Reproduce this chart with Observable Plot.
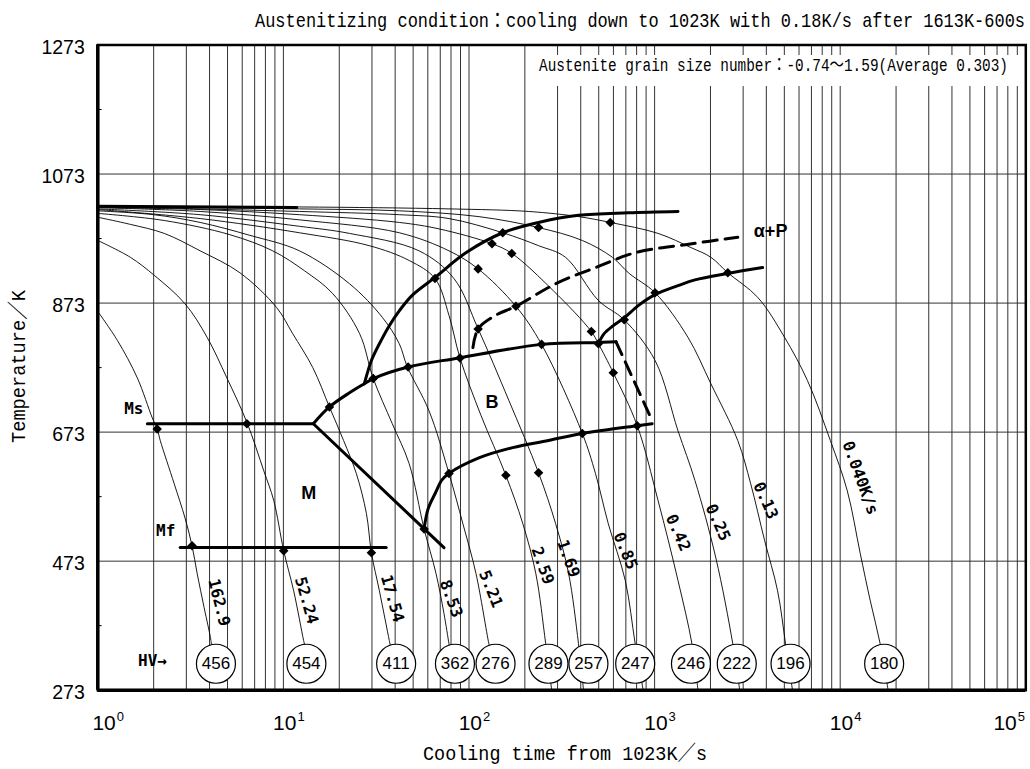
<!DOCTYPE html>
<html><head><meta charset="utf-8">
<script src="https://cdn.jsdelivr.net/npm/d3@7"></script>
<script src="https://cdn.jsdelivr.net/npm/@observablehq/plot@0.6"></script>
<style>
body{margin:0;background:#fff;}
#wrap{position:relative;width:1030px;height:769px;overflow:hidden;background:#fff;}
</style></head><body><div id="wrap"></div>
<script>
// ---- axis values ----
const decades = [1, 10, 100, 1000, 10000, 100000];
const tempTicks = [273, 473, 673, 873, 1073, 1273];
const tempGrid = [473, 673, 873, 1073];
const tempMinor = [373, 573, 773, 973, 1173];

// ---- cooling curves: [time s, temperature K] ----
const rateLabels = ["162.9","52.24","17.54","8.53","5.21","2.59","1.69","0.85","0.42","0.25","0.13","0.040K/s"];
const c162_9 = [[1.0,860],[1.276,815],[1.633,757],[1.966,695],[2.09,678],[2.17,660],[2.58,593],[2.95,540],[3.22,497],[3.43,454],[3.74,401],[4.07,350],[4.1,340]];
const c52_24 = [[1,970],[1.497,944],[2.015,916],[2.95,872],[3.88,820],[4.96,757],[6.36,688],[7.84,613],[8.87,567],[10.04,489],[11.36,427],[12.85,350],[13.1,340]];
const c17_54 = [[1,1006],[1.497,995],[2.28,981],[3.56,954],[5.83,920],[9.2,866],[11.2,826],[14.4,773],[17.7,712],[21.1,660],[24.7,609],[28.0,547],[29.8,486],[32.9,427],[37.2,350],[37.8,340]];
const c8_53 = [[1,1012],[2.28,1001],[5.15,979],[8.76,954],[13.0,923],[18.4,888],[25.7,826],[30.5,756],[38.6,686],[47.6,624],[57.3,523],[66.4,454],[73.3,392],[78.0,345],[78.8,338]];
const c5_21 = [[1,1016],[2.0,1010],[3.56,998],[6.6,978],[12.2,954],[22.7,903],[34.1,851],[42.1,810],[46.4,775],[60.9,706],[78.0,609],[92.7,531],[109,454],[128,345],[130,338]];
const c2_59 = [[1,1018],[3.56,1004],[12.2,982],[29.0,962],[47.6,939],[65.6,911],[78.0,854],[89.4,788],[116,699],[158,606],[195,531],[229,454],[259,345],[279,273]];
const c1_69 = [[1,1019],[3.56,1010],[12.2,992],[22.7,981],[53.8,954],[83.0,911],[112,833],[164,722],[237,610],[293,531],[344,454],[389,345],[414,273]];
const c0_85 = [[1,1021],[3.56,1015],[12.2,1002],[42.1,982],[78.0,954],[112,926],[179,868],[246,809],[408,671],[480,609],[563,531],[695,443],[786,345],[868,273]];
const c0_42 = [[1,1021],[3.56,1018],[12.2,1010],[42.1,998],[68.9,988],[133,965],[170,950],[285,892],[456,829],[498,810],[599,765],[806,683],[1044,567],[1337,443],[1589,345],[1712,273]];
const c0_25 = [[1,1023],[3.56,1019],[12.2,1015],[42.1,1010],[78.0,1004],[152,982],[237,962],[331,944],[498,877],[686,847],[1006,784],[1337,675],[1650,598],[2138,478],[2638,345],[2875,273]];
const c0_13 = [[1,1023],[3.56,1021],[12.2,1019],[42.1,1016],[113,1007],[237,990],[408,970],[592,944],[729,919],[1006,889],[1512,820],[2010,748],[2805,660],[3294,593],[3915,505],[4599,427],[5076,345],[5534,273]];
const c0_040 = [[1,1023],[12.2,1022],[78.0,1019],[210,1015],[389,1007],[577,998],[1044,981],[1570,959],[2010,944],[2480,920],[3592,882],[5012,820],[6660,753],[8849,660],[10920,582],[12820,485],[14510,412],[16420,345],[18120,273]];
const coolingCurves = [c162_9,c52_24,c17_54,c8_53,c5_21,c2_59,c1_69,c0_85,c0_42,c0_25,c0_13,c0_040];

// rate label anchor positions (time, temperature) and angle
const labelTime = [4.5, 13.3, 38.6, 80.0, 131, 249, 343, 695, 1337, 2191, 3965, 12820];
const labelTemp = [409, 412, 415, 415, 430, 466, 477, 489, 517, 533, 567, 602];
const labelAngle = [76, 74, 74, 70, 68, 70, 70, 68, 66, 66, 66, 70];

// ---- transformation lines ----
const austenitizeLine = [[1,1023],[11.8,1021]];
const ferriteStart = [[27.3,748],[29.8,784],[32.9,810],[37.2,838],[42.1,861],[49.4,885],[66.4,914],[96.2,951],[152,982],[237,998],[389,1009],[721,1013],[1337,1015]];
const bainiteStart = [[14.5,686],[17.7,712],[22.7,734],[27.3,748],[30.5,756],[47.0,774],[88.3,788],[246,809],[498,812],[620,813]];
const bainiteDash = [[620,813],[970,691]];
const bainiteFinish = [[57.3,523],[60.2,554],[66.0,579],[71.5,599],[78.0,609],[113,633],[172,649],[268,660],[408,671],[806,683],[970,686]];
const pearliteFinish = [[498,810],[536,826],[599,838],[686,850],[816,869],[1006,886],[1337,900],[1650,909],[2480,919],[3819,928]];
const pearliteStart = [[105,804],[112,833],[139,854],[179,868],[293,903],[480,928],[786,951],[1589,965],[2805,975]];
const msLine = [[1.85,686],[14.5,686]];
const mDiagonal = [[14.5,686],[73.3,494]];
const mfLine = [[2.78,494],[35.8,494]];

// ---- measured transformation points ----
const points = [[2.09,678],[6.36,686],[17.7,712],[30.5,756],[47.0,774],[89.4,788],[246,809],[498,810],
  [3.22,497],[10.04,489],[29.8,486],
  [57.3,523],[78.0,609],[158,606],[237,610],[408,671],[806,683],
  [65.6,911],[112,926],[133,965],[152,982],[170,950],[237,990],[577,998],
  [112,833],[179,868],
  [456,829],[599,765],[686,847],[1006,889],[2480,920]];

// ---- hardness ----
const hardness = [456,454,411,362,276,289,257,247,246,222,196,180];
const hvTime = [4.33,13.3,40.5,84.0,139,268,440,786,1570,2771,5400,17250];
const hvTemp = 314;

// ---- phase labels ----
const phaseText = ["Ms","Mf","HV→"];
const phaseTime = [1.564, 2.32, 1.97];
const phaseTemp = [709, 520, 319];
const regionText = ["M","B","α+P"];
const regionTime = [13.7, 133, 4217];
const regionTemp = [578, 719, 985];

const titleText = "Austenitizing condition：cooling down to 1023K with 0.18K/s after 1613K-600s";
const grainText = "Austenite grain size number：-0.74～1.59(Average 0.303)";
const xLabel = "Cooling time from 1023K／s";
const yLabel = "Temperature／K";

// ---- build ----
const toRows = (arr, id) => arr.map(([t,T]) => ({t, T, id}));
const curveRows = coolingCurves.flatMap((c,i) => toRows(c, rateLabels[i]));
const thickRows = [
  ...toRows(austenitizeLine,"a"), ...toRows(ferriteStart,"f"), ...toRows(bainiteStart,"bs"),
  ...toRows(bainiteFinish,"bf"), ...toRows(pearliteFinish,"pf"), ...toRows(msLine,"ms"),
  ...toRows(mDiagonal,"md"), ...toRows(mfLine,"mf")];
const dashRows = [...toRows(pearliteStart,"ps"), ...toRows(bainiteDash,"bd")];
const pointRows = points.map(([t,T]) => ({t,T}));
const hvRows = hardness.map((h,i) => ({h, t: hvTime[i], T: hvTemp}));
const rateRows = rateLabels.map((label,i) => ({label, t: labelTime[i], T: labelTemp[i], angle: labelAngle[i]}));
const phaseRows = phaseText.map((s,i) => ({s, t: phaseTime[i], T: phaseTemp[i]}));
const regionRows = regionText.map((s,i) => ({s, t: regionTime[i], T: regionTemp[i]}));
const xGrid = decades.slice(0,5).flatMap(d => [1,2,3,4,5,6,7,8,9].map(k => k*d)).filter(v => v > 1);

const diamond = {draw(ctx, size){ const r = Math.sqrt(size/2); ctx.moveTo(0,-r); ctx.lineTo(r,0); ctx.lineTo(0,r); ctx.lineTo(-r,0); ctx.closePath(); }};
const sans = "Liberation Sans, Arial, sans-serif";
const mono = "Liberation Mono, DejaVu Sans Mono, Noto Sans CJK JP, monospace";
const boldMono = "DejaVu Sans Mono, Liberation Mono, monospace";

// x tick label marks (base "10" plus superscript exponent), with a constant offset per group
function decadeLabels(values, dx) {
  return [
    Plot.text(values, {x: d => d, y: () => 273, text: () => "10", textAnchor: "end", lineAnchor: "bottom", dx: dx, dy: 40, fontSize: 21, fontFamily: sans, fill: "black"}),
    Plot.text(values, {x: d => d, y: () => 273, text: d => String(Math.round(Math.log10(d))), textAnchor: "start", lineAnchor: "bottom", dx: dx + 1, dy: 31, fontSize: 13, fontFamily: sans, fill: "black"})
  ];
}

const svg = Plot.plot({
  width: 1030, height: 769,
  marginLeft: 97.3, marginRight: 4.7, marginTop: 44.5, marginBottom: 79.3,
  x: {type: "log", domain: [1, 100000], axis: null},
  y: {domain: [273, 1273], axis: null},
  style: {background: "white", overflow: "visible"},
  marks: [
    Plot.ruleX(xGrid, {stroke: "#333", strokeWidth: 1}),
    Plot.ruleY(tempGrid, {stroke: "#333", strokeWidth: 1}),
    Plot.ruleY(tempMinor, {x1: 1, x2: 1.055, stroke: "black", strokeWidth: 1}),
    Plot.line(curveRows, {x: "t", y: "T", z: "id", stroke: "black", strokeWidth: 0.9, curve: "catmull-rom"}),
    Plot.line(thickRows, {x: "t", y: "T", z: "id", stroke: "black", strokeWidth: 3, curve: "catmull-rom"}),
    Plot.line(dashRows, {x: "t", y: "T", z: "id", stroke: "black", strokeWidth: 3, strokeDasharray: "14,8", curve: "catmull-rom"}),
    Plot.dot(pointRows, {x: "t", y: "T", symbol: diamond, r: 3.8, fill: "black", stroke: "none"}),
    Plot.dot(hvRows, {x: "t", y: "T", r: 19.5, fill: "white", stroke: "black", strokeWidth: 1.2}),
    Plot.text(hvRows, {x: "t", y: "T", text: d => String(d.h), fontSize: 17, fontFamily: sans, fill: "black"}),
    Plot.text(rateRows, {x: "t", y: "T", text: "label", rotate: "angle", fontSize: 16, fontWeight: "bold", fontFamily: boldMono, fill: "black", ariaLabel: "rate labels"}),
    Plot.text(phaseRows, {x: "t", y: "T", text: "s", fontSize: 16, fontWeight: "bold", fontFamily: boldMono, fill: "black", ariaLabel: "phase labels"}),
    Plot.text(regionRows, {x: "t", y: "T", text: "s", fontSize: 18, fontWeight: "bold", fontFamily: sans, fill: "black"}),
    Plot.text(tempTicks, {x: () => 1, y: d => d, text: d => String(d), textAnchor: "end", dx: -13, dy: 3, fontSize: 19.5, fontFamily: sans, fill: "black"}),
    ...decadeLabels([1], 18),
    ...decadeLabels([10, 100, 1000, 10000], 13),
    ...decadeLabels([100000], -9),
    Plot.frame({stroke: "black", strokeWidth: 2.5}),
    Plot.ruleX([1], {stroke: "black", strokeWidth: 3.5}),
    Plot.ruleY([273], {stroke: "black", strokeWidth: 3.5})
  ]
});

document.getElementById("wrap").appendChild(svg);

const s = d3.select(svg);
// narrow the bold condensed labels
s.selectAll('g[aria-label="rate labels"] text, g[aria-label="phase labels"] text').each(function(){
  const tr = this.getAttribute("transform") || "";
  this.setAttribute("transform", tr + " scale(0.8,1.1)");
});
function addText(x, y, str, size, len, transform) {
  const t = s.append("text").attr("font-family", mono).attr("font-size", size)
    .attr("text-anchor", "start").attr("fill", "black")
    .attr("textLength", len).attr("lengthAdjust", "spacingAndGlyphs").text(str);
  if (transform) t.attr("transform", transform); else t.attr("x", x).attr("y", y);
  return t;
}
// grain size box
s.append("rect").attr("x", 530).attr("y", 55).attr("width", 491).attr("height", 31).attr("fill", "white");
addText(539, 71, grainText, 18, 469);
// title
addText(255, 27, titleText, 21, 770);
// axis labels
addText(423, 760, xLabel, 21, 284);
addText(0, 0, yLabel, 21, 153, "translate(25,443) rotate(-90)");
</script></body></html>
